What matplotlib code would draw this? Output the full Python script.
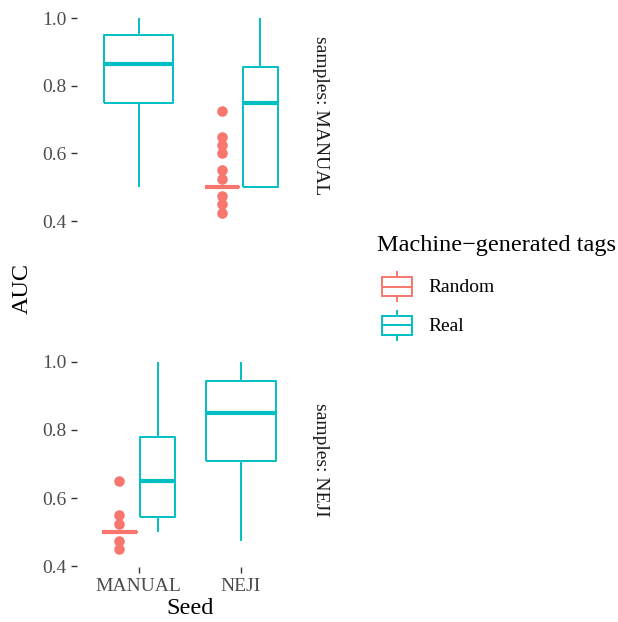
import matplotlib
matplotlib.use('Agg')
import matplotlib.pyplot as plt
from matplotlib.patches import Rectangle
from matplotlib.lines import Line2D
from matplotlib.legend_handler import HandlerBase

plt.rcParams['font.family'] = ['Liberation Serif', 'DejaVu Serif']
plt.rcParams['lines.solid_capstyle'] = 'butt'

# data: five-number summaries [whislo, q1, med, q3, whishi] and outliers
panels = ['MANUAL', 'NEJI']
seeds = ['MANUAL', 'NEJI']
groups = ['Random', 'Real']
colors = {'Random': '#F8766D', 'Real': '#00BFC4'}

manual_manual_real = [0.5, 0.75, 0.865, 0.95, 1.0]
manual_neji_random = [0.5, 0.5, 0.5, 0.5, 0.5]
manual_neji_random_out = [0.725, 0.65, 0.625, 0.6, 0.55, 0.525, 0.475, 0.45, 0.425]
manual_neji_real = [0.5, 0.5, 0.75, 0.855, 1.0]

neji_manual_random = [0.5, 0.5, 0.5, 0.5, 0.5]
neji_manual_random_out = [0.65, 0.55, 0.525, 0.475, 0.45]
neji_manual_real = [0.5, 0.545, 0.65, 0.78, 1.0]
neji_neji_real = [0.475, 0.71, 0.85, 0.945, 1.0]

# (panel, seed, group) -> (summary, outliers)
boxes = {
    ('MANUAL', 'MANUAL', 'Real'): (manual_manual_real, []),
    ('MANUAL', 'NEJI', 'Random'): (manual_neji_random, manual_neji_random_out),
    ('MANUAL', 'NEJI', 'Real'): (manual_neji_real, []),
    ('NEJI', 'MANUAL', 'Random'): (neji_manual_random, neji_manual_random_out),
    ('NEJI', 'MANUAL', 'Real'): (neji_manual_real, []),
    ('NEJI', 'NEJI', 'Real'): (neji_neji_real, []),
}

W, H = 618, 622
fig = plt.figure(figsize=(W / 100, H / 100), dpi=100)

def px_axes(x0, y0, x1, y1):
    return fig.add_axes([x0 / W, 1 - y1 / H, (x1 - x0) / W, (y1 - y0) / H])

axes = [px_axes(77, 8.5, 302.6, 222.4), px_axes(77, 352, 302.6, 567.4)]

for ax, panel in zip(axes, panels):
    for i, seed in enumerate(seeds, start=1):
        present = [g for g in groups if (panel, seed, g) in boxes]
        for j, g in enumerate(present):
            s, out = boxes[(panel, seed, g)]
            if len(present) == 1:
                pos, w = i, 0.675
            else:
                pos, w = i + (-0.1875 if j == 0 else 0.1875), 0.3375
            c = colors[g]
            st = dict(whislo=s[0], q1=s[1], med=s[2], q3=s[3], whishi=s[4], fliers=out)
            ax.bxp([st], positions=[pos], widths=[w], showcaps=False,
                   boxprops=dict(color=c, lw=1.4),
                   whiskerprops=dict(color=c, lw=1.4),
                   medianprops=dict(color=c, lw=3.0),
                   flierprops=dict(marker='o', markerfacecolor=c, markeredgecolor='none',
                                   markersize=7.6))
    ax.set_xlim(0.4, 2.6)
    ax.set_ylim(0.39625, 1.02875)
    ax.set_yticks([0.4, 0.6, 0.8, 1.0])
    ax.set_yticklabels(['0.4', '0.6', '0.8', '1.0'])
    for sp in ax.spines.values():
        sp.set_visible(False)
    ax.tick_params(length=4.4, width=1.0, color='#333333', labelcolor='#4D4D4D',
                   labelsize=14, pad=3)
    ax.text(1.08, 0.5, 'samples: ' + panel, transform=ax.transAxes, rotation=-90,
            ha='center', va='center', fontsize=14, color='#1A1A1A')

axes[0].set_xticks([])
axes[1].set_xticks([1, 2])
axes[1].set_xticklabels(seeds)

fig.text(22 / W, 1 - 288 / H, 'AUC', rotation=90, ha='center', va='center', fontsize=17.5)
fig.text(190 / W, 1 - 609 / H, 'Seed', ha='center', va='center', fontsize=17.5)


class BoxKey(HandlerBase):
    def create_artists(self, legend, orig_handle, xdescent, ydescent, width, height,
                       fontsize, trans):
        c = orig_handle.get_color()
        x0, y0 = -xdescent, -ydescent
        xm = x0 + width / 2
        rect = Rectangle((x0 + 0.125 * width, y0 + 0.25 * height), 0.75 * width, 0.5 * height,
                         fill=False, ec=c, lw=1.4, transform=trans)
        med = Line2D([x0 + 0.125 * width, x0 + 0.875 * width], [y0 + 0.5 * height] * 2,
                     color=c, lw=1.4, transform=trans)
        wt = Line2D([xm, xm], [y0 + 0.75 * height, y0 + 0.9 * height], color=c, lw=1.4,
                    transform=trans)
        wb = Line2D([xm, xm], [y0 + 0.1 * height, y0 + 0.25 * height], color=c, lw=1.4,
                    transform=trans)
        return [rect, med, wt, wb]


handles = [Line2D([], [], color=colors[g]) for g in groups]
leg = fig.legend(handles, groups, handler_map={Line2D: BoxKey()},
                 loc='upper left', bbox_to_anchor=(377 / W, 1 - 235 / H),
                 frameon=False, fontsize=14, title='Machine\u2212generated tags',
                 title_fontsize=17.5, handlelength=2.05, handleheight=2.7,
                 labelspacing=0.0, handletextpad=0.6, borderpad=0, borderaxespad=0)
leg._legend_box.align = 'left'
leg._legend_box.sep = 8

fig.savefig('out.png', dpi=100)
